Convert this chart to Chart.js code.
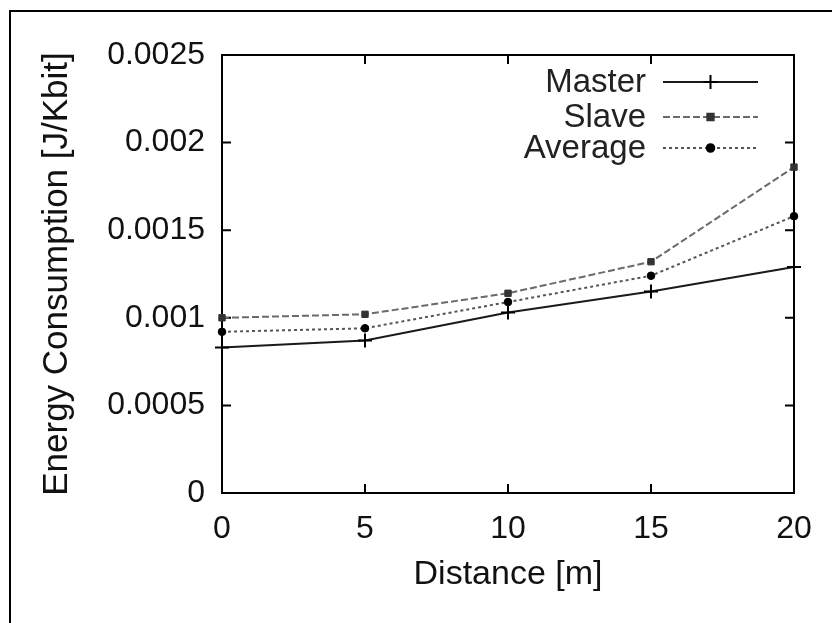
<!DOCTYPE html>
<html>
<head>
<meta charset="utf-8">
<title>Energy Consumption vs Distance</title>
<script src="https://cdn.jsdelivr.net/npm/chart.js@4/dist/chart.umd.min.js"></script>
<style>
  html, body { margin: 0; padding: 0; background: #fff; }
  #wrap { width: 832px; height: 623px; position: relative; }
</style>
</head>
<body>
<div id="wrap"><canvas id="chart"></canvas></div>
<script>
// values
const distances = [0, 5, 10, 15, 20];
const master = [0.00083, 0.00087, 0.00103, 0.00115, 0.00129];
const slave = [0.00100, 0.00102, 0.00114, 0.00132, 0.00186];
const average = [0.00092, 0.00094, 0.00109, 0.00124, 0.00158];
const seriesNames = ['Master', 'Slave', 'Average'];
const xTickLabels = ['0', '5', '10', '15', '20'];
const yTickLabels = ['0', '0.0005', '0.001', '0.0015', '0.002', '0.0025'];

const FONT = 'Liberation Sans, Arial, Helvetica, sans-serif';

const toPoints = (ys) => distances.map((d, i) => ({ x: d, y: ys[i] }));

// gnuplot style frame: full box with inward ticks, plus the outer picture edge
const framePlugin = {
    id: 'frame',
    beforeDatasetsDraw(chart) {
        const { ctx, chartArea: a, scales } = chart;
        const tick = 9;
        ctx.save();
        ctx.strokeStyle = '#000';
        ctx.lineWidth = 2;

        // outer picture edge (only left and top visible)
        ctx.beginPath();
        ctx.moveTo(10, chart.height);
        ctx.lineTo(10, 11);
        ctx.lineTo(chart.width, 11);
        ctx.stroke();

        ctx.strokeRect(a.left, a.top, a.right - a.left, a.bottom - a.top);

        ctx.beginPath();
        scales.x.ticks.forEach(t => {
            const px = scales.x.getPixelForValue(t.value);
            ctx.moveTo(px, a.bottom); ctx.lineTo(px, a.bottom - tick);
            ctx.moveTo(px, a.top); ctx.lineTo(px, a.top + tick);
        });
        scales.y.ticks.forEach(t => {
            const py = scales.y.getPixelForValue(t.value);
            ctx.moveTo(a.left, py); ctx.lineTo(a.left + tick, py);
            ctx.moveTo(a.right, py); ctx.lineTo(a.right - tick, py);
        });
        ctx.stroke();
        ctx.restore();
    }
};

// legend inside the plot, text right aligned left of the sample
const keyPlugin = {
    id: 'key',
    afterDatasetsDraw(chart) {
        const { ctx, chartArea: a } = chart;
        const sampleRight = a.right - 36;
        const sampleLeft = sampleRight - 95;
        const textRight = sampleLeft - 17;
        const rows = [27, 62, 93];
        ctx.save();
        ctx.font = '33px ' + FONT;
        ctx.textAlign = 'right';
        ctx.textBaseline = 'middle';
        chart.data.datasets.forEach((ds, i) => {
            const y = a.top + rows[i];
            ctx.fillStyle = '#222';
            ctx.fillText(ds.label, textRight, y + 1);

            ctx.strokeStyle = ds.borderColor;
            ctx.lineWidth = ds.borderWidth;
            ctx.setLineDash(ds.borderDash || []);
            ctx.beginPath();
            ctx.moveTo(sampleLeft, y);
            ctx.lineTo(sampleRight, y);
            ctx.stroke();
            ctx.setLineDash([]);

            ctx.fillStyle = ds.pointBackgroundColor;
            ctx.strokeStyle = ds.pointBorderColor;
            Chart.helpers.drawPoint(ctx, {
                pointStyle: ds.pointStyle,
                radius: ds.pointRadius,
                rotation: 0,
                borderWidth: ds.pointBorderWidth
            }, (sampleLeft + sampleRight) / 2, y);
        });
        ctx.restore();
    }
};

new Chart(document.getElementById('chart'), {
    type: 'line',
    data: {
        datasets: [
            {
                label: seriesNames[0],
                data: toPoints(master),
                borderColor: '#1a1a1a',
                borderWidth: 2,
                pointStyle: 'cross',
                pointRadius: 7,
                pointBorderWidth: 2,
                pointBorderColor: '#000',
                pointBackgroundColor: '#000',
                tension: 0,
                clip: false
            },
            {
                label: seriesNames[1],
                data: toPoints(slave),
                borderColor: '#6a6a6a',
                borderWidth: 2,
                borderDash: [7, 3],
                pointStyle: 'rect',
                pointRadius: 4.5,
                pointBorderWidth: 1,
                pointBorderColor: '#333',
                pointBackgroundColor: '#333',
                tension: 0,
                clip: false
            },
            {
                label: seriesNames[2],
                data: toPoints(average),
                borderColor: '#555',
                borderWidth: 2,
                borderDash: [3, 3],
                pointStyle: 'circle',
                pointRadius: 3.8,
                pointBorderWidth: 1,
                pointBorderColor: '#000',
                pointBackgroundColor: '#000',
                tension: 0,
                clip: false
            }
        ]
    },
    options: {
        responsive: true,
        maintainAspectRatio: false,
        animation: false,
        devicePixelRatio: 1,
        layout: { padding: { left: 0, top: 55, right: 38, bottom: 0 } },
        plugins: {
            legend: { display: false },
            tooltip: { enabled: false }
        },
        scales: {
            x: {
                type: 'linear',
                min: 0,
                max: 20,
                grid: { display: false, drawTicks: false },
                border: { display: false },
                ticks: {
                    stepSize: 5,
                    padding: 17,
                    color: '#111',
                    font: { family: FONT, size: 32 },
                    callback: (v, i) => xTickLabels[i]
                },
                title: {
                    display: true,
                    text: 'Distance [m]',
                    color: '#111',
                    font: { family: FONT, size: 34 },
                    padding: { top: 0, bottom: 28 }
                },
                afterFit: (s) => { s.height = 130; }
            },
            y: {
                min: 0,
                max: 0.0025,
                grid: { display: false, drawTicks: false },
                border: { display: false },
                ticks: {
                    stepSize: 0.0005,
                    padding: 17,
                    color: '#111',
                    font: { family: FONT, size: 32 },
                    callback: (v, i) => yTickLabels[i]
                },
                title: {
                    display: true,
                    text: 'Energy Consumption [J/Kbit]',
                    color: '#111',
                    font: { family: FONT, size: 35 },
                    padding: { top: 36, bottom: 0 }
                },
                afterFit: (s) => { s.width = 222; }
            }
        }
    },
    plugins: [framePlugin, keyPlugin]
});
</script>
</body>
</html>
